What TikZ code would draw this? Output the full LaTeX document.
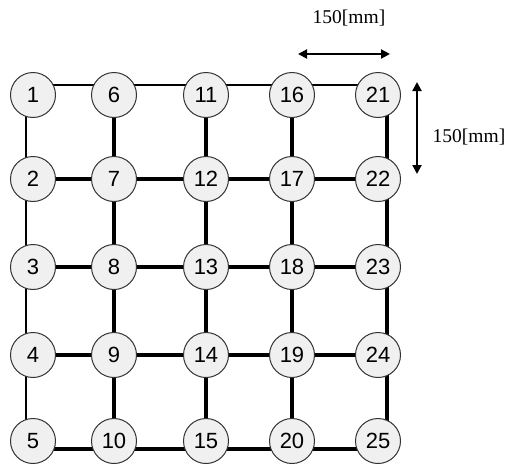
\documentclass[tikz,border=0pt]{standalone}
\usepackage{fontspec}
\setmainfont{Liberation Serif}
\newfontfamily\numfont{Liberation Sans}
\usetikzlibrary{backgrounds,arrows.meta}
\begin{document}
\begin{tikzpicture}[x=1pt,y=-1pt,
  nd/.style={circle,draw=black!80,line width=1pt,fill=black!6,minimum size=45pt,inner sep=0pt,font=\numfont\fontsize{22}{22}\selectfont},
  thinbar/.style={line width=2pt},
  thickbar/.style={line width=3.6pt},
  dimarrow/.style={line width=2pt,{Triangle[length=9pt,width=9pt]}-{Triangle[length=9pt,width=9pt]}},
  lbl/.style={font=\fontsize{19.5}{19.5}\selectfont}]
\useasboundingbox (0,0) rectangle (506,466);
\foreach \c/\x in {0/33,1/114,2/206,3/292,4/378}{
  \foreach \r/\y in {1/95,2/179,3/267,4/355,5/441}{
    \pgfmathtruncatemacro\nn{\c*5+\r}
    \node[nd] (n\nn) at (\x,\y) {\nn};
  }
}
\begin{scope}[on background layer]
  % outer frame
  \draw[thinbar] ([yshift=10pt]n1.center) -- ([yshift=10pt]n6.center) -- ([yshift=10pt]n11.center) -- ([yshift=10pt]n16.center) -- ([yshift=10pt]n21.center);
  \draw[thinbar] ([xshift=-7pt]n1.center) -- ([xshift=-7pt]n5.center);
  \draw[thickbar] ([xshift=9pt]n21.center) -- ([xshift=9pt]n25.center);
  \draw[thickbar] ([yshift=-8pt]n5.center) -- ([yshift=-8pt]n25.center);
  % interior
  \draw[thickbar] (n2) -- (n7) -- (n12) -- (n17) -- (n22);
  \draw[thickbar] (n3) -- (n8) -- (n13) -- (n18) -- (n23);
  \draw[thickbar] (n4) -- (n9) -- (n14) -- (n19) -- (n24);
  \draw[thickbar] (n6) -- (n7) -- (n8) -- (n9) -- (n10);
  \draw[thickbar] (n11) -- (n12) -- (n13) -- (n14) -- (n15);
  \draw[thickbar] (n16) -- (n17) -- (n18) -- (n19) -- (n20);
\end{scope}
\coordinate (ha) at (298,54);
\coordinate (hb) at (390,54);
\draw[dimarrow] (ha) -- (hb);
\coordinate (va) at (417,82);
\coordinate (vb) at (417,174);
\draw[dimarrow] (va) -- (vb);
\node[lbl] (t1) at (349,18) {150[mm]};
\node[lbl] (t2) at (469,137) {150[mm]};
\end{tikzpicture}
\end{document}
